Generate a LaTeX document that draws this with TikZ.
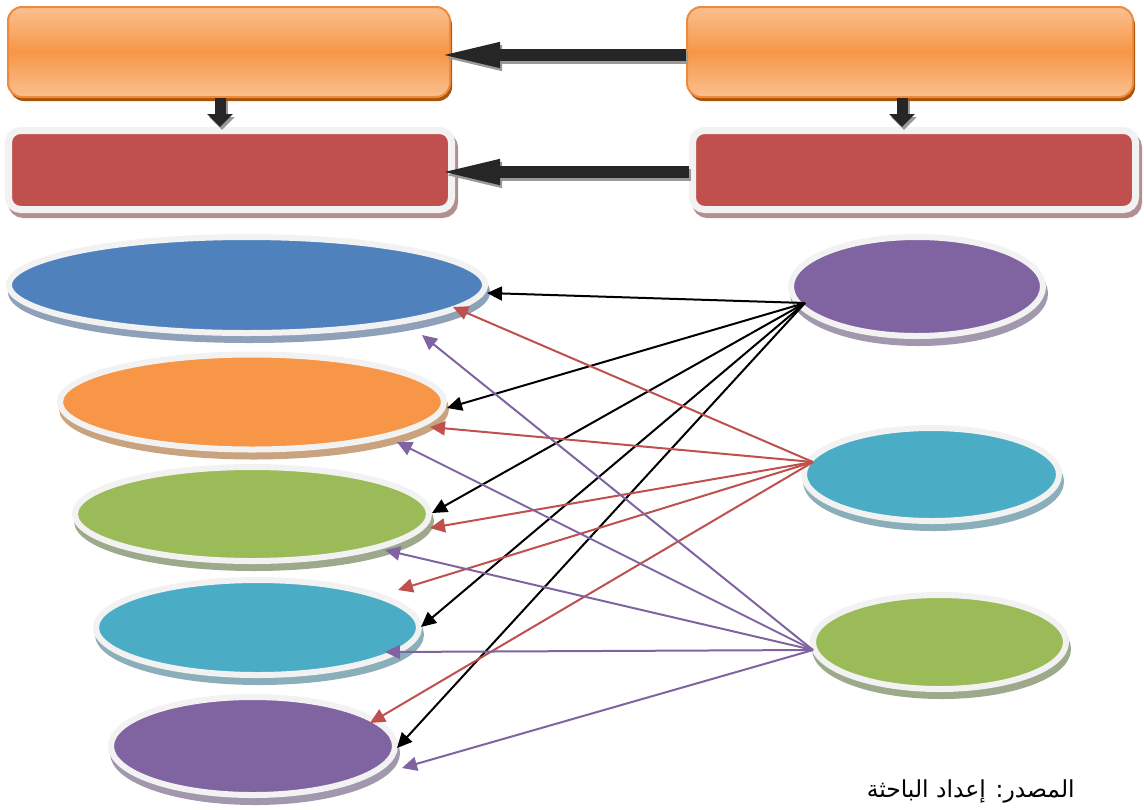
\documentclass[tikz,border=0pt]{standalone}
\usepackage{fontspec}
\newfontfamily\arabicfont[Script=Arabic]{DejaVu Sans}
\TeXXeTstate=1
\usetikzlibrary{shapes.geometric,arrows.meta,calc}
\definecolor{orM}{HTML}{F79646}
\definecolor{orL}{HTML}{FAC090}
\definecolor{orB}{HTML}{EE8A3C}
\definecolor{orS}{HTML}{A9540C}
\definecolor{redF}{HTML}{C0504D}
\definecolor{redS}{HTML}{B28E8E}
\definecolor{grayB}{HTML}{F2F2F2}
\definecolor{blueF}{HTML}{4F81BD}
\definecolor{blueS}{HTML}{8EA1B9}
\definecolor{orangeF}{HTML}{F79646}
\definecolor{orangeS}{HTML}{C9A37F}
\definecolor{greenF}{HTML}{9BBB59}
\definecolor{greenS}{HTML}{9CA98B}
\definecolor{tealF}{HTML}{4BACC6}
\definecolor{tealS}{HTML}{8BAFBA}
\definecolor{purpF}{HTML}{8064A2}
\definecolor{purpS}{HTML}{A198AE}
\definecolor{lineR}{HTML}{C0504D}
\definecolor{lineP}{HTML}{8064A2}
\begin{document}
\begin{tikzpicture}[x=0.5pt,y=-0.5pt,
  obox/.style={rectangle, rounded corners=7pt, inner sep=0pt,
    minimum width=#1, minimum height=45pt,
    top color=orL, bottom color=orL, middle color=orM,
    draw=orB, line width=1pt,
    preaction={fill=orS, transform canvas={xshift=1pt,yshift=-2pt}}},
  rbox/.style={rectangle, rounded corners=6pt, inner sep=0pt,
    minimum width=221.5pt, minimum height=39.5pt,
    fill=redF, draw=grayB, line width=3.5pt,
    preaction={draw=redS, fill=redS, line width=3.5pt, transform canvas={xshift=1.5pt,yshift=-2.5pt}}},
  ell/.style 2 args={ellipse, inner sep=0pt, fill=#1, draw=grayB, line width=3pt,
    preaction={draw=#2, fill=#2, line width=3pt, transform canvas={xshift=1pt,yshift=-3.5pt}}},
  bigarrow/.style={line width=6pt, draw=black!85, -{Triangle[length=33pt,width=11pt]}},
  bigshadow/.style={line width=6pt, draw=black!40, -{Triangle[length=33pt,width=11pt]}, transform canvas={xshift=1pt,yshift=-1.5pt}},
  downarrow/.style={line width=5.5pt, draw=black!85, -{Triangle[length=6.5pt,width=12.5pt]}},
  downshadow/.style={line width=5.5pt, draw=black!40, -{Triangle[length=6.5pt,width=12.5pt]}, transform canvas={xshift=1pt,yshift=-1.5pt}},
  conn/.style={line width=1pt, draw=#1, -{Triangle[length=7.5pt,width=7pt]}}
]
\useasboundingbox (0,0) rectangle (1144,809);

% top boxes
\node[obox=221pt] (o1) at (229,52) {};
\node[obox=223pt] (o2) at (910,52) {};
\node[rbox] (r1) at (230,170) {};
\node[rbox] (r2) at (914,170) {};

% block arrows
\draw[bigshadow, shorten >=-8.5pt] ([yshift=-1.5pt]o2.west) -- ([yshift=-1.5pt]o1.east);
\draw[bigarrow, shorten >=-8.5pt] ([yshift=-1.5pt]o2.west) -- ([yshift=-1.5pt]o1.east);
\draw[bigshadow, shorten >=-10.5pt] ([yshift=-1pt]r2.west) -- ([yshift=-1pt]r1.east);
\draw[bigarrow, shorten >=-10.5pt] ([yshift=-1pt]r2.west) -- ([yshift=-1pt]r1.east);
\draw[downshadow] ([xshift=-4.5pt]o1.south) -- ([xshift=-4.5pt]o1.south |- r1.north);
\draw[downarrow] ([xshift=-4.5pt]o1.south) -- ([xshift=-4.5pt]o1.south |- r1.north);
\draw[downshadow] ([xshift=-4pt]o2.south) -- ([xshift=-4pt]o2.south |- r2.north);
\draw[downarrow] ([xshift=-4pt]o2.south) -- ([xshift=-4pt]o2.south |- r2.north);

% left ellipses
\node[ell={blueF}{blueS}, minimum width=238pt, minimum height=48pt] (e1) at (247,285) {};
\node[ell={orangeF}{orangeS}, minimum width=192pt, minimum height=47.5pt] (e2) at (252,402) {};
\node[ell={greenF}{greenS}, minimum width=177pt, minimum height=47pt] (e3) at (252,514) {};
\node[ell={tealF}{tealS}, minimum width=161.5pt, minimum height=47.5pt] (e4) at (257.5,627.5) {};
\node[ell={purpF}{purpS}, minimum width=142pt, minimum height=49pt] (e5) at (253,746) {};

% right ellipses
\node[ell={purpF}{purpS}, minimum width=126pt, minimum height=49.5pt] (eA) at (917,286.5) {};
\node[ell={tealF}{tealS}, minimum width=127.5pt, minimum height=46.5pt] (eB) at (931.5,474.5) {};
\node[ell={greenF}{greenS}, minimum width=126.5pt, minimum height=47pt] (eC) at (939.5,642) {};

% connectors from eA (black)
\draw[conn=black] ($(eA)+(-112,16.5)$) -- ($(e1)+(240,8)$);
\draw[conn=black] ($(eA)+(-112,16.5)$) -- ($(e2)+(195,6)$);
\draw[conn=black] ($(eA)+(-112,16.5)$) -- ($(e3)+(180,-1)$);
\draw[conn=black] ($(eA)+(-112,16.5)$) -- ($(e4)+(163.5,-0.5)$);
\draw[conn=black] ($(eA)+(-112,16.5)$) -- ($(e5)+(144,2)$);

% connectors from eB (red)
\draw[conn=lineR] ($(eB)+(-118.5,-12.5)$) -- ($(e1)+(206,22)$);
\draw[conn=lineR] ($(eB)+(-118.5,-12.5)$) -- ($(e2)+(178,25)$);
\draw[conn=lineR] ($(eB)+(-118.5,-12.5)$) -- ($(e3)+(178,14)$);
\draw[conn=lineR] ($(eB)+(-118.5,-12.5)$) -- ($(e4)+(140.5,-37.5)$);
\draw[conn=lineR] ($(eB)+(-118.5,-12.5)$) -- ($(e5)+(117,-23)$);

% connectors from eC (purple)
\draw[conn=lineP] ($(eC)+(-126.5,8)$) -- ($(e1)+(175,50)$);
\draw[conn=lineP] ($(eC)+(-126.5,8)$) -- ($(e2)+(145,40)$);
\draw[conn=lineP] ($(eC)+(-126.5,8)$) -- ($(e3)+(133,36)$);
\draw[conn=lineP] ($(eC)+(-126.5,8)$) -- ($(e4)+(127.5,24.5)$);
\draw[conn=lineP] ($(eC)+(-126.5,8)$) -- ($(e5)+(149,22)$);

% source note
\node[anchor=east, inner sep=0pt, font=\arabicfont\fontsize{11.7}{14}\selectfont] (src) at (1075,791) {\beginR المصدر: إعداد الباحثة\endR};
\end{tikzpicture}
\end{document}
